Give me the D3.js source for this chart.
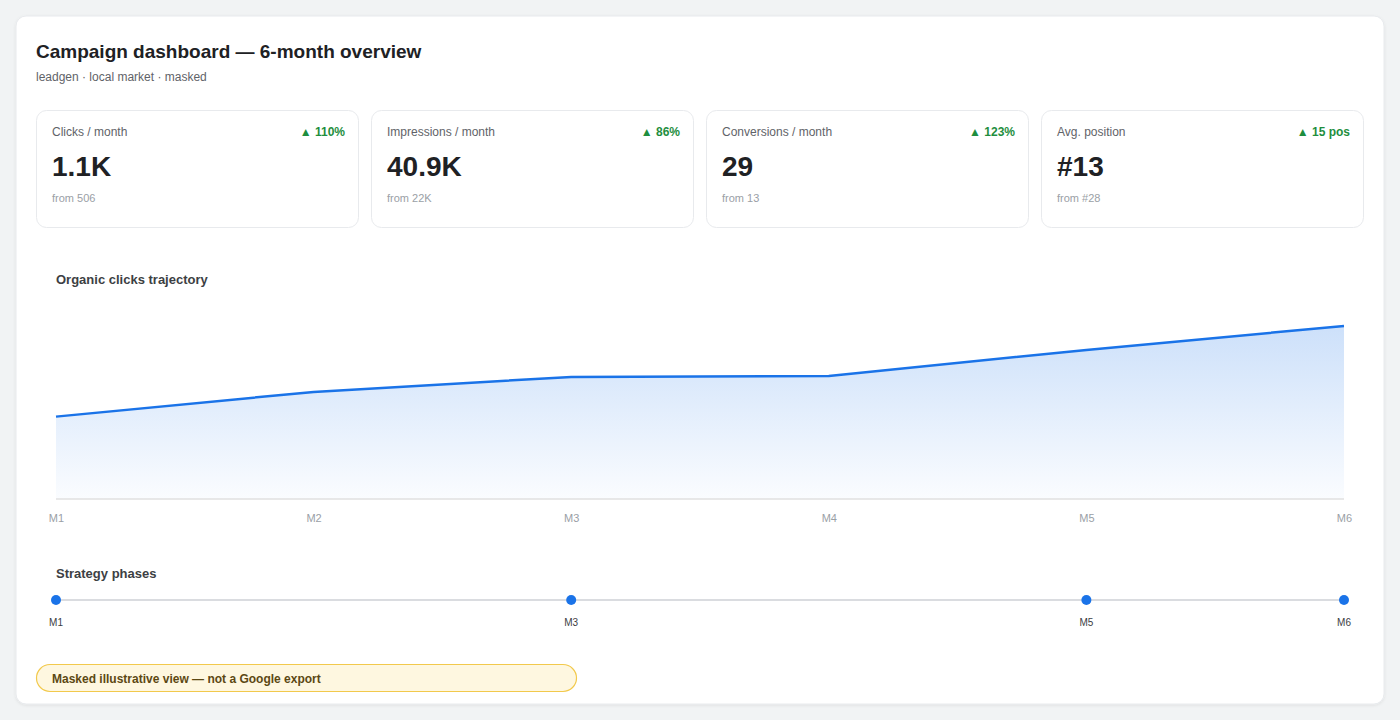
<!DOCTYPE html>
<html>
<head>
<meta charset="utf-8">
<script src="https://cdn.jsdelivr.net/npm/d3@7"></script>
<style>
  body { margin: 0; background: #f1f3f4; font-family: 'Liberation Sans', Arial, sans-serif; }
  svg { display: block; }
</style>
</head>
<body>
<svg id="chart" width="1400" height="720"></svg>
<script>
// KPI cards
const kpiLabels = ['Clicks / month', 'Impressions / month', 'Conversions / month', 'Avg. position'];
const kpiValues = ['1.1K', '40.9K', '29', '#13'];
const kpiDeltas = ['▲ 110%', '▲ 86%', '▲ 123%', '▲ 15 pos'];
const kpiFrom = ['from 506', 'from 22K', 'from 13', 'from #28'];

// Organic clicks per month
const months = ['M1', 'M2', 'M3', 'M4', 'M5', 'M6'];
const clicks = [506, 658, 750, 756, 916, 1063];

// Strategy phase markers
const phases = ['M1', 'M3', 'M5', 'M6'];

const svg = d3.select('#chart');
const defs = svg.append('defs');

const shadow = defs.append('filter').attr('id', 'shadow')
    .attr('x', '-5%').attr('y', '-5%').attr('width', '110%').attr('height', '110%');
shadow.append('feDropShadow').attr('dx', 0).attr('dy', 1).attr('stdDeviation', 1.5)
    .attr('flood-color', '#000').attr('flood-opacity', 0.08);

const grad = defs.append('linearGradient').attr('id', 'areaFill')
    .attr('x1', 0).attr('y1', 0).attr('x2', 0).attr('y2', 1);
grad.append('stop').attr('offset', '0%').attr('stop-color', '#1a73e8').attr('stop-opacity', 0.22);
grad.append('stop').attr('offset', '100%').attr('stop-color', '#1a73e8').attr('stop-opacity', 0.02);

// main panel
svg.append('rect')
    .attr('x', 16).attr('y', 16).attr('width', 1368).attr('height', 688)
    .attr('rx', 10).attr('fill', '#fff').attr('stroke', '#e8eaed')
    .attr('filter', 'url(#shadow)');

svg.append('text').attr('x', 36).attr('y', 58)
    .attr('font-size', 19).attr('font-weight', 700).attr('fill', '#202124')
    .text('Campaign dashboard — 6-month overview');
svg.append('text').attr('x', 36).attr('y', 81)
    .attr('font-size', 12).attr('fill', '#5f6368')
    .text('leadgen · local market · masked');

// KPI cards
const cardW = 322, cardGap = 13;
const cards = svg.selectAll('g.card')
    .data(kpiLabels.map((l, i) => ({ label: l, value: kpiValues[i], delta: kpiDeltas[i], from: kpiFrom[i] })))
    .join('g')
    .attr('class', 'card')
    .attr('transform', (d, i) => 'translate(' + (36 + i * (cardW + cardGap)) + ',110)');
cards.append('rect')
    .attr('x', 0.5).attr('y', 0.5).attr('width', cardW).attr('height', 117)
    .attr('rx', 10).attr('fill', '#fff').attr('stroke', '#e8eaed');
cards.append('text').attr('x', 16).attr('y', 26)
    .attr('font-size', 12).attr('fill', '#5f6368').text(d => d.label);
cards.append('text').attr('x', cardW - 13).attr('y', 26)
    .attr('text-anchor', 'end').attr('font-size', 12).attr('font-weight', 700)
    .attr('fill', '#1e8e3e').text(d => d.delta);
cards.append('text').attr('x', 16).attr('y', 66)
    .attr('font-size', 28).attr('font-weight', 700).attr('fill', '#202124').text(d => d.value);
cards.append('text').attr('x', 16).attr('y', 92)
    .attr('font-size', 11).attr('fill', '#9aa0a6').text(d => d.from);

// clicks trajectory
svg.append('text').attr('x', 56).attr('y', 284)
    .attr('font-size', 13).attr('font-weight', 700).attr('fill', '#3c4043')
    .text('Organic clicks trajectory');

const x = d3.scalePoint().domain(months).range([56, 1344]);
const y = d3.scaleLinear().domain([0, d3.max(clicks) * 1.15]).range([499, 300]);

const pts = months.map((m, i) => ({ m, v: clicks[i] }));

svg.append('path').datum(pts)
    .attr('fill', 'url(#areaFill)')
    .attr('d', d3.area().x(d => x(d.m)).y0(y(0)).y1(d => y(d.v)));

svg.append('line')
    .attr('x1', 56).attr('x2', 1344).attr('y1', y(0)).attr('y2', y(0))
    .attr('stroke', '#e0e0e0').attr('stroke-width', 1.5);

svg.append('path').datum(pts)
    .attr('fill', 'none').attr('stroke', '#1a73e8').attr('stroke-width', 2.5)
    .attr('stroke-linejoin', 'round')
    .attr('d', d3.line().x(d => x(d.m)).y(d => y(d.v)));

const xAxis = svg.append('g')
    .attr('transform', 'translate(0,' + (y(0) + 8) + ')')
    .call(d3.axisBottom(x).tickSize(0).tickPadding(7));
xAxis.select('.domain').remove();
xAxis.selectAll('text')
    .attr('font-family', 'Liberation Sans, Arial, sans-serif')
    .attr('font-size', 11).attr('fill', '#9aa0a6');

// strategy phases
svg.append('text').attr('x', 56).attr('y', 578)
    .attr('font-size', 13).attr('font-weight', 700).attr('fill', '#3c4043')
    .text('Strategy phases');

svg.append('line')
    .attr('x1', 56).attr('x2', 1344).attr('y1', 600).attr('y2', 600)
    .attr('stroke', '#dadce0').attr('stroke-width', 2);

const phaseG = svg.selectAll('g.phase').data(phases).join('g')
    .attr('class', 'phase')
    .attr('transform', d => 'translate(' + x(d) + ',600)');
phaseG.append('circle').attr('r', 5).attr('fill', '#1a73e8');
phaseG.append('text').attr('y', 26).attr('text-anchor', 'middle')
    .attr('font-size', 10).attr('fill', '#3c4043').text(d => d);

// disclaimer badge
svg.append('rect')
    .attr('x', 36.5).attr('y', 664.5).attr('width', 540).attr('height', 27)
    .attr('rx', 13.5).attr('fill', '#fef7e0').attr('stroke', '#f2c94c').attr('stroke-width', 1.2);
svg.append('text').attr('x', 52).attr('y', 683)
    .attr('font-size', 12).attr('font-weight', 700).attr('fill', '#5c4813')
    .text('Masked illustrative view — not a Google export');
</script>
</body>
</html>
